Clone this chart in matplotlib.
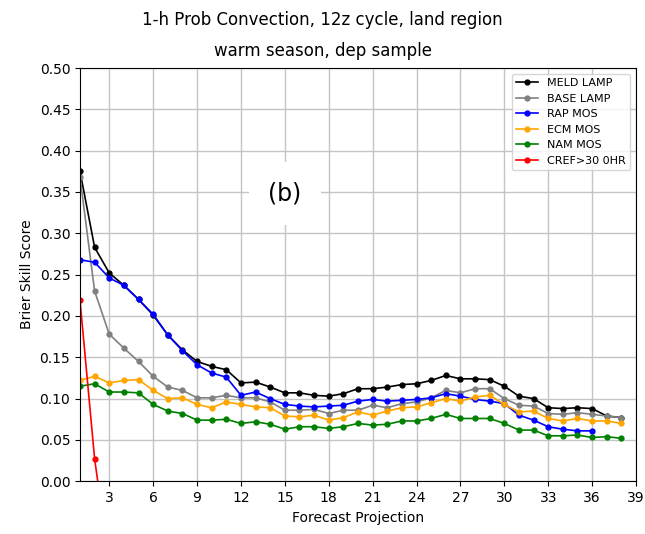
import matplotlib
matplotlib.use("Agg")
import matplotlib.pyplot as plt

x_meld = list(range(1, 39))
meld = [0.375, 0.283, 0.252, 0.237, 0.220, 0.201, 0.177, 0.159, 0.145, 0.139,
        0.135, 0.119, 0.120, 0.114, 0.107, 0.107, 0.104, 0.103, 0.106, 0.112,
        0.112, 0.114, 0.117, 0.118, 0.122, 0.128, 0.124, 0.124, 0.123, 0.115,
        0.103, 0.100, 0.089, 0.088, 0.089, 0.088, 0.079, 0.077]
base = [0.368, 0.230, 0.178, 0.161, 0.145, 0.127, 0.114, 0.110, 0.101, 0.101,
        0.104, 0.101, 0.101, 0.096, 0.086, 0.086, 0.087, 0.082, 0.086, 0.086,
        0.092, 0.089, 0.094, 0.096, 0.101, 0.110, 0.107, 0.112, 0.112, 0.100,
        0.092, 0.091, 0.082, 0.081, 0.083, 0.081, 0.079, 0.077]
x_rap = list(range(1, 37))
rap = [0.268, 0.265, 0.246, 0.237, 0.220, 0.202, 0.177, 0.158, 0.141, 0.131,
       0.126, 0.104, 0.108, 0.100, 0.093, 0.091, 0.090, 0.091, 0.092, 0.097,
       0.099, 0.097, 0.098, 0.099, 0.101, 0.106, 0.103, 0.099, 0.097, 0.094,
       0.080, 0.074, 0.066, 0.063, 0.061, 0.061]
ecm = [0.122, 0.127, 0.119, 0.122, 0.123, 0.110, 0.100, 0.101, 0.093, 0.089,
       0.096, 0.093, 0.090, 0.089, 0.079, 0.078, 0.080, 0.074, 0.077, 0.084,
       0.080, 0.085, 0.089, 0.090, 0.095, 0.100, 0.097, 0.102, 0.104, 0.093,
       0.084, 0.085, 0.076, 0.073, 0.076, 0.073, 0.073, 0.070]
nam = [0.115, 0.118, 0.108, 0.108, 0.107, 0.093, 0.085, 0.082, 0.074, 0.074,
       0.075, 0.070, 0.072, 0.069, 0.063, 0.066, 0.066, 0.064, 0.066, 0.070,
       0.068, 0.069, 0.073, 0.073, 0.076, 0.081, 0.076, 0.076, 0.076, 0.070,
       0.062, 0.062, 0.055, 0.055, 0.056, 0.053, 0.054, 0.052]
x_cref = [1, 2, 3]
cref = [0.219, 0.027, -0.10]

series = [
    ("MELD LAMP", x_meld, meld, "black"),
    ("BASE LAMP", x_meld, base, "gray"),
    ("RAP MOS", x_rap, rap, "blue"),
    ("ECM MOS", x_meld, ecm, "orange"),
    ("NAM MOS", x_meld, nam, "green"),
    ("CREF>30 0HR", x_cref, cref, "red"),
]

fig = plt.figure(figsize=(6.45, 5.34), dpi=100)
ax = fig.add_axes([80/645, 1 - 481.3/534, 556/645, 413.3/534])

for name, xs, ys, c in series:
    ax.plot(xs, ys, color=c, marker="o", markersize=3.5, linewidth=1.2, label=name)

ax.set_xlim(1, 39)
ax.set_ylim(0, 0.5)
ax.set_xticks(list(range(3, 40, 3)))
ax.set_yticks([i * 0.05 for i in range(11)])
ax.set_yticklabels([f"{i*0.05:.2f}" for i in range(11)])
ax.grid(True, color="#c4c4c4", linewidth=1.0)
ax.set_axisbelow(True)
ax.tick_params(labelsize=10)
ax.set_xlabel("Forecast Projection", fontsize=10)
ax.set_ylabel("Brier Skill Score", fontsize=10)

ax.text(15, 0.348, "(b)", fontsize=17, ha="center", va="center",
        bbox=dict(facecolor="white", edgecolor="none", pad=14))

ax.legend(loc="upper right", fontsize=8, frameon=True)

fig.text(0.5, 1 - 20/534, "1-h Prob Convection, 12z cycle, land region",
         ha="center", va="center", fontsize=12)
fig.text(0.5, 1 - 51/534, "warm season, dep sample",
         ha="center", va="center", fontsize=12)

fig.savefig("out.png", dpi=100)
